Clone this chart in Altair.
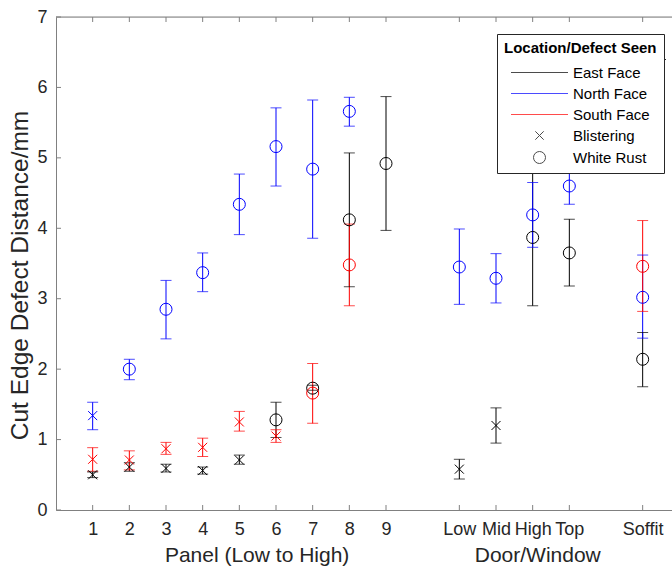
import altair as alt
import pandas as pd

# ---------------- data ----------------
x_tick_pos = [1, 2, 3, 4, 5, 6, 7, 8, 9, 11, 12, 13, 14, 16]
x_tick_lab = ["1", "2", "3", "4", "5", "6", "7", "8", "9", "Low", "Mid", "High", "Top", "Soffit"]
y_ticks = [0, 1, 2, 3, 4, 5, 6, 7]

group_titles = ["Panel (Low to High)", "Door/Window"]
group_title_x = [2.97, 11.42]

# East Face
east_blister_x = [1, 2, 3, 4, 5, 11, 12]
east_blister_mean = [0.50, 0.61, 0.59, 0.56, 0.71, 0.58, 1.20]
east_blister_lo = [0.46, 0.55, 0.54, 0.51, 0.65, 0.44, 0.95]
east_blister_hi = [0.54, 0.67, 0.65, 0.61, 0.78, 0.72, 1.45]

east_rust_x = [6, 7, 8, 9, 13, 14, 16]
east_rust_mean = [1.28, 1.73, 4.12, 4.92, 3.87, 3.65, 2.14]
east_rust_lo = [1.03, 1.70, 3.17, 3.97, 2.90, 3.18, 1.75]
east_rust_hi = [1.53, 1.77, 5.07, 5.87, 4.85, 4.13, 2.52]

# North Face
north_blister_x = [1]
north_blister_mean = [1.34]
north_blister_lo = [1.14]
north_blister_hi = [1.53]

north_rust_x = [2, 3, 4, 5, 6, 7, 8, 11, 12, 13, 14, 16]
north_rust_mean = [2.00, 2.85, 3.37, 4.34, 5.16, 4.84, 5.66, 3.45, 3.29, 4.19, 4.60, 3.02]
north_rust_lo = [1.85, 2.43, 3.10, 3.91, 4.60, 3.86, 5.45, 2.92, 2.94, 3.73, 4.34, 2.44]
north_rust_hi = [2.14, 3.26, 3.65, 4.77, 5.71, 5.82, 5.86, 3.99, 3.64, 4.65, 4.87, 3.62]

# South Face
south_blister_x = [1, 2, 3, 4, 5, 6]
south_blister_mean = [0.72, 0.71, 0.87, 0.89, 1.25, 1.05]
south_blister_lo = [0.55, 0.57, 0.79, 0.76, 1.12, 0.96]
south_blister_hi = [0.885, 0.84, 0.96, 1.02, 1.40, 1.14]

south_rust_x = [7, 8, 16]
south_rust_mean = [1.66, 3.48, 3.46]
south_rust_lo = [1.23, 2.90, 2.82]
south_rust_hi = [2.08, 4.06, 4.11]

legend_keys = ["East Face", "North Face", "South Face", "Blistering", "White Rust"]
legend_colors = ["#000000", "#0000ff", "#ff0000", "#000000", "#000000"]

# ---------------- styling ----------------
FONT = "Liberation Sans"
W, H = 616, 493
AX = "#808080"
TXT = "#262626"
face_color = {"East Face": "#000000", "North Face": "#0000ff", "South Face": "#ff0000"}
cross_path = "M-0.75,-0.75L0.75,0.75M-0.75,0.75L0.75,-0.75"
line_path = "M-4.75,0L4.75,0"
legend_cross = "M-0.7,-0.7L0.7,0.7M-0.7,0.7L0.7,-0.7"
defect_shape = {"Blistering": cross_path, "White Rust": "circle"}
legend_shapes = [line_path, line_path, line_path, legend_cross, "circle"]

series = [
    ("East Face", "Blistering", east_blister_x, east_blister_mean, east_blister_lo, east_blister_hi),
    ("East Face", "White Rust", east_rust_x, east_rust_mean, east_rust_lo, east_rust_hi),
    ("North Face", "Blistering", north_blister_x, north_blister_mean, north_blister_lo, north_blister_hi),
    ("North Face", "White Rust", north_rust_x, north_rust_mean, north_rust_lo, north_rust_hi),
    ("South Face", "Blistering", south_blister_x, south_blister_mean, south_blister_lo, south_blister_hi),
    ("South Face", "White Rust", south_rust_x, south_rust_mean, south_rust_lo, south_rust_hi),
]
frames = []
for face, defect, xs_, m, lo, hi in series:
    frames.append(pd.DataFrame({
        "x": xs_, "mean": m, "lo": lo, "hi": hi,
        "col": face_color[face], "shp": defect_shape[defect],
    }))
df = pd.concat(frames, ignore_index=True)

label_expr = "".join(
    f"datum.value == {p} ? '{l}' : " for p, l in zip(x_tick_pos, x_tick_lab)
) + "''"

x_axis = alt.Axis(values=x_tick_pos, labelExpr=label_expr, ticks=False, grid=False,
                  title=None, domainColor=AX, labelFont=FONT, labelFontSize=18,
                  labelColor=TXT, labelPadding=10, labelFlush=False)
y_axis = alt.Axis(values=y_ticks, ticks=False, grid=False, title="Cut Edge Defect Distance/mm",
                  domainColor=AX, labelFont=FONT, labelFontSize=18, labelColor=TXT,
                  labelPadding=9, titleFont=FONT, titleFontSize=24.5, titleFontWeight="normal",
                  titleColor=TXT, titlePadding=4, titleY=258)
xs = alt.Scale(domain=[0, 16.8], nice=False, zero=False)
ys = alt.Scale(domain=[0, 7], nice=False, zero=False)


def X(f):
    return alt.X(f, type="quantitative", scale=xs, axis=x_axis)


def Y(f):
    return alt.Y(f, type="quantitative", scale=ys, axis=y_axis)


base = alt.Chart(df)
bars = base.mark_rule(strokeWidth=1).encode(
    x=X("x"), y=Y("lo"), y2="hi", color=alt.Color("col:N", scale=None))
cap_lo = base.mark_tick(orient="horizontal", size=11, thickness=1).encode(
    x=X("x"), y=Y("lo"), color=alt.Color("col:N", scale=None))
cap_hi = base.mark_tick(orient="horizontal", size=11, thickness=1).encode(
    x=X("x"), y=Y("hi"), color=alt.Color("col:N", scale=None))
pts = base.mark_point(filled=False, strokeWidth=1, size=144, opacity=1).encode(
    x=X("x"), y=Y("mean"), color=alt.Color("col:N", scale=None),
    shape=alt.Shape("shp:N", scale=None))

# inward ticks
ytk = pd.DataFrame({"v": y_ticks})
xtk = pd.DataFrame({"v": x_tick_pos})
ytick_layer = alt.Chart(ytk).mark_rule(color=AX, strokeWidth=1).encode(
    y=Y("v"), x=alt.value(0), x2=alt.value(5))
xtick_bot = alt.Chart(xtk).mark_rule(color=AX, strokeWidth=1).encode(
    x=X("v"), y=alt.value(H), y2=alt.value(H - 5))
xtick_top = alt.Chart(xtk).mark_rule(color=AX, strokeWidth=1).encode(
    x=X("v"), y=alt.value(0), y2=alt.value(5))
top_line = alt.Chart(ytk).transform_filter("datum.v == 7").mark_rule(color=AX, strokeWidth=1).encode(
    y=Y("v"), x=alt.value(0), x2=alt.value(W))

# group titles under the x axis
gt = alt.Chart(pd.DataFrame({"t": group_titles, "gx": group_title_x})).mark_text(
    font=FONT, fontSize=21, color=TXT, align="left", baseline="middle").encode(
    x=X("gx"), y=alt.value(H + 46), text="t:N")

# legend
leg = alt.Legend(title="Location/Defect Seen", orient="none", legendX=441, legendY=17,
                 strokeColor="#262626", fillColor="#ffffff", padding=7, cornerRadius=0,
                 titleFont=FONT, titleFontSize=15, titleFontWeight="bold", titleColor="#000000",
                 titlePadding=9, labelFont=FONT, labelFontSize=15, labelColor="#000000",
                 symbolSize=144, symbolStrokeWidth=1, symbolOffset=28, labelOffset=26,
                 rowPadding=5)
legend_layer = alt.Chart(pd.DataFrame({"key": legend_keys})).mark_point(
    filled=False, strokeWidth=1).encode(
    x=X("nx"), y=Y("ny"),
    color=alt.Color("key:N", scale=alt.Scale(domain=legend_keys, range=legend_colors), legend=leg),
    shape=alt.Shape("key:N", scale=alt.Scale(domain=legend_keys, range=legend_shapes), legend=leg))

sep = alt.Chart(pd.DataFrame({"key": ["sep"]})).mark_rule(color="#262626", strokeWidth=1).encode(
    x=alt.value(441), x2=alt.value(610), y=alt.value(42.5))

chart = alt.layer(
    top_line, ytick_layer, xtick_bot, xtick_top, bars, cap_lo, cap_hi, pts, gt, legend_layer, sep
).properties(
    width=W, height=H,
    autosize=alt.AutoSizeParams(type="none"),
    padding={"left": 56, "top": 17, "right": 0, "bottom": 57},
).configure_view(stroke=None).configure(background="white")

chart.save("out.html", embed_options={"renderer": "svg", "actions": False})
